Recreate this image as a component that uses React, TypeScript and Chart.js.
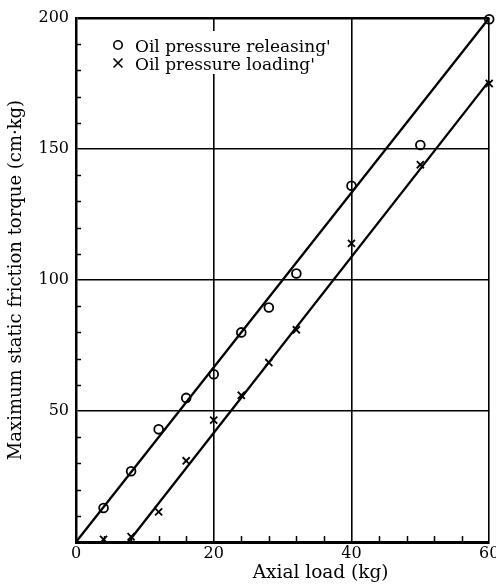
import React, { useEffect, useRef } from 'react';
import { Chart, registerables } from 'chart.js';

Chart.register(...registerables);

// Data
const releasingLoad = [4, 8, 12, 16, 20, 24, 28, 32, 40, 50, 60];
const releasingTorque = [13, 27, 43, 55, 64, 80, 89.5, 102.5, 136, 151.5, 199.5];
const loadingLoad = [4, 8, 12, 16, 20, 24, 28, 32, 40, 50, 60];
const loadingTorque = [1, 2, 11.5, 31, 46.5, 56, 68.5, 81, 114, 144, 175];
const releasingFitLoad = [0, 60];
const releasingFitTorque = [0, 200];
const loadingFitLoad = [7.6, 60];
const loadingFitTorque = [0, 176];
const xTickLabels = [0, 20, 40, 60];
const yTickLabels = [50, 100, 150, 200];
const xMinorTicks = [4, 8, 12, 16, 24, 28, 32, 36, 44, 48, 52, 56];
const yMinorTicks = [10, 20, 30, 40, 60, 70, 80, 90, 110, 120, 130, 140, 160, 170, 180, 190];
const seriesLabels = ["Oil pressure releasing'", "Oil pressure loading'"];
const xTitle = 'Axial load (kg)';
const yTitle = 'Maximum static friction torque (cm\u00b7kg)';

const FONT = '"DejaVu Serif", "Liberation Serif", serif';

const pts = (xs: number[], ys: number[]) => xs.map((x, i) => ({ x, y: ys[i] }));

const decorPlugin = {
  id: 'decor',
  beforeDatasetsDraw(chart: any) {
    const { ctx, chartArea: ca, scales } = chart;
    const x = scales.x;
    const y = scales.y;
    ctx.save();
    ctx.strokeStyle = '#000';
    ctx.lineWidth = 1.5;
    ctx.beginPath();
    xMinorTicks.forEach((v) => {
      const px = Math.round(x.getPixelForValue(v)) + 0.5;
      ctx.moveTo(px, ca.bottom);
      ctx.lineTo(px, ca.bottom - 6);
    });
    yMinorTicks.forEach((v) => {
      const py = Math.round(y.getPixelForValue(v)) + 0.5;
      ctx.moveTo(ca.left, py);
      ctx.lineTo(ca.left + 5, py);
    });
    ctx.stroke();
    // legend background
    ctx.fillStyle = '#fff';
    ctx.fillRect(ca.left + 26, ca.top + 13, 240, 43);
    ctx.restore();
  },
  afterDraw(chart: any) {
    const { ctx, chartArea: ca } = chart;
    ctx.save();
    ctx.strokeStyle = '#000';
    ctx.fillStyle = '#000';
    ctx.lineWidth = 1.6;
    const sx = ca.left + 42;
    // circle symbol
    ctx.beginPath();
    ctx.arc(sx, ca.top + 27, 4.2, 0, Math.PI * 2);
    ctx.stroke();
    // cross symbol
    const cy = ca.top + 45;
    const r = 4.5;
    ctx.beginPath();
    ctx.moveTo(sx - r, cy - r);
    ctx.lineTo(sx + r, cy + r);
    ctx.moveTo(sx + r, cy - r);
    ctx.lineTo(sx - r, cy + r);
    ctx.stroke();
    ctx.font = `17px ${FONT}`;
    ctx.textAlign = 'left';
    ctx.textBaseline = 'alphabetic';
    ctx.fillText(seriesLabels[0], ca.left + 59, ca.top + 34);
    ctx.fillText(seriesLabels[1], ca.left + 59, ca.top + 52);
    // x axis title
    ctx.font = `18.5px ${FONT}`;
    ctx.textAlign = 'center';
    ctx.fillText(xTitle, ca.left + ca.width * 0.592, 578);
    ctx.restore();
  },
};

export default function App() {
  const ref = useRef<HTMLCanvasElement>(null);
  useEffect(() => {
    document.body.style.margin = '0';
    const canvas = ref.current;
    if (!canvas) return;
    const chart = new Chart(canvas, {
      type: 'scatter',
      data: {
        datasets: [
          {
            label: seriesLabels[0],
            data: pts(releasingLoad, releasingTorque),
            pointStyle: 'circle',
            pointRadius: 4.4,
            pointBorderWidth: 1.8,
            pointBorderColor: '#000',
            pointBackgroundColor: 'rgba(0,0,0,0)',
            showLine: false,
            clip: false,
          } as any,
          {
            label: seriesLabels[1],
            data: pts(loadingLoad, loadingTorque),
            pointStyle: 'crossRot',
            pointRadius: 5,
            pointBorderWidth: 1.8,
            pointBorderColor: '#000',
            showLine: false,
            clip: false,
          } as any,
          {
            label: 'releasing fit',
            data: pts(releasingFitLoad, releasingFitTorque),
            showLine: true,
            pointRadius: 0,
            borderColor: '#000',
            borderWidth: 2.3,
            clip: false,
          } as any,
          {
            label: 'loading fit',
            data: pts(loadingFitLoad, loadingFitTorque),
            showLine: true,
            pointRadius: 0,
            borderColor: '#000',
            borderWidth: 2.3,
            clip: false,
          } as any,
        ],
      },
      options: {
        animation: false,
        responsive: false,
        devicePixelRatio: 1,
        layout: { padding: { left: 0, right: 6, top: 18, bottom: 0 } },
        plugins: {
          legend: { display: false },
          tooltip: { enabled: false },
        },
        scales: {
          x: {
            type: 'linear',
            min: 0,
            max: 60,
            afterBuildTicks: (scale: any) => {
              scale.ticks = xTickLabels.map((v) => ({ value: v }));
            },
            afterFit: (scale: any) => {
              scale.height = 46;
              scale.paddingLeft = 0;
              scale.paddingRight = 0;
            },
            ticks: {
              color: '#000',
              font: { family: FONT, size: 16 },
              padding: 2,
              autoSkip: false,
              maxRotation: 0,
              callback: (v: any) => String(v),
            },
            grid: {
              drawTicks: false,
              color: (c: any) => (c.tick && c.tick.value === 0 ? 'rgba(0,0,0,0)' : '#000'),
              lineWidth: 1.6,
            },
            border: { display: true, color: '#000', width: 3 },
          },
          y: {
            type: 'linear',
            min: 0,
            max: 200,
            afterBuildTicks: (scale: any) => {
              scale.ticks = [0, ...yTickLabels].map((v) => ({ value: v }));
            },
            afterFit: (scale: any) => {
              scale.width = 76;
              scale.paddingTop = 0;
              scale.paddingBottom = 0;
            },
            ticks: {
              color: '#000',
              font: { family: FONT, size: 16 },
              padding: 7,
              autoSkip: false,
              callback: (v: any) => (v === 0 ? '' : String(v)),
            },
            grid: {
              drawTicks: false,
              color: (c: any) => (c.tick && c.tick.value === 0 ? 'rgba(0,0,0,0)' : '#000'),
              lineWidth: (c: any) => (c.tick && c.tick.value === 200 ? 2.5 : 1.6),
            },
            border: { display: true, color: '#000', width: 2.5 },
            title: {
              display: true,
              text: yTitle,
              color: '#000',
              font: { family: FONT, size: 18 },
              padding: { top: 6, bottom: 0 },
            },
          },
        },
      },
      plugins: [decorPlugin],
    } as any);
    return () => chart.destroy();
  }, []);
  return (
    <div style={{ width: 496, height: 588, background: '#fff' }}>
      <canvas ref={ref} width={496} height={588} style={{ display: 'block' }} />
    </div>
  );
}
